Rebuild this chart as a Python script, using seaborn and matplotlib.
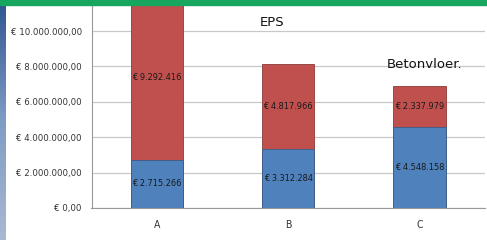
import numpy as np
import pandas as pd
import matplotlib
matplotlib.use("Agg")
import matplotlib.pyplot as plt
from matplotlib.patches import Rectangle
import seaborn as sns

# data
categories = ["A", "B", "C"]
onder = [2715266, 3312284, 4548158]      # blue part
boven = [9292416, 4817966, 2337979]      # red part
y_ticks = [0, 2000000, 4000000, 6000000, 8000000, 10000000]

sns.set_theme(style="white")
plt.rcParams['font.family'] = ['DejaVu Sans']
plt.rcParams['font.stretch'] = 'condensed'


def euro(v, dec=False):
    s = "{:,.2f}".format(v) if dec else "{:,.0f}".format(v)
    s = s.replace(",", "#").replace(".", ",").replace("#", ".")
    return "€ " + s


df = pd.DataFrame({"cat": categories, "onder": onder, "boven": boven})
df["totaal"] = df["onder"] + df["boven"]

fig = plt.figure(figsize=(4.87, 2.40), dpi=100)
ax = fig.add_axes([91.5 / 487, 32 / 240, 393.5 / 487, 212.4 / 240])

blue = "#4f81bd"
red = "#c0504d"
sns.barplot(data=df, x="cat", y="totaal", color=red, width=0.4, saturation=1,
            edgecolor="#8c3a38", linewidth=0.6, ax=ax)
sns.barplot(data=df, x="cat", y="onder", color=blue, width=0.4, saturation=1,
            edgecolor="#385d8a", linewidth=0.6, ax=ax)

ax.set_ylim(0, 12000000)
ax.set_xlim(-0.5, 2.5)
ax.set_yticks(y_ticks)
ax.set_yticklabels([euro(v, True) for v in y_ticks], fontsize=6.8, color="#333333")
ax.set_xticks(range(len(categories)))
ax.set_xticklabels(categories, fontsize=7.5, color="#333333")
ax.set_xticks([-0.5, 0.5, 1.5, 2.5], minor=True)
ax.tick_params(axis="x", which="major", length=0, pad=9)
ax.tick_params(axis="x", which="minor", length=4, color="#999999", width=0.8, direction="out")
ax.tick_params(axis="y", length=4, color="#999999", width=0.8, direction="out", pad=3)
ax.set_xlabel("")
ax.set_ylabel("")
ax.yaxis.grid(True, color="#c8c8c8", linewidth=0.9)
ax.set_axisbelow(True)
for s in ["top", "right"]:
    ax.spines[s].set_visible(False)
for s in ["left", "bottom"]:
    ax.spines[s].set_color("#999999")
    ax.spines[s].set_linewidth(0.8)

for i in range(len(categories)):
    ax.text(i, df["onder"][i] / 2, euro(df["onder"][i]), ha="center", va="center",
            fontsize=6.6, color="#1a1a1a")
    ax.text(i, df["onder"][i] + df["boven"][i] / 2, euro(df["boven"][i]), ha="center",
            va="center", fontsize=6.6, color="#1a1a1a")

fig.text(272 / 487, 1 - 23 / 240, "EPS", ha="center", va="center", fontsize=9.5,
         fontstretch="normal", color="#111111")
fig.text(425 / 487, 1 - 64 / 240, "Betonvloer.", ha="center", va="center", fontsize=9.5,
         fontstretch="normal", color="#111111")

# green band on top and the blue picture strip on the left
fig.patches.append(Rectangle((0, 1 - 5 / 240), 1, 5 / 240, transform=fig.transFigure,
                             color="#17a65e", zorder=10))
strip = fig.add_axes([0, 0, 6 / 487, 1])
grad = np.linspace(0, 1, 60).reshape(-1, 1)
strip.imshow(grad, aspect="auto", cmap=matplotlib.colors.LinearSegmentedColormap.from_list(
    "s", ["#2f5590", "#7f9cc4", "#a8b8d2"]))
strip.axis("off")

fig.savefig("out.png", dpi=100)
